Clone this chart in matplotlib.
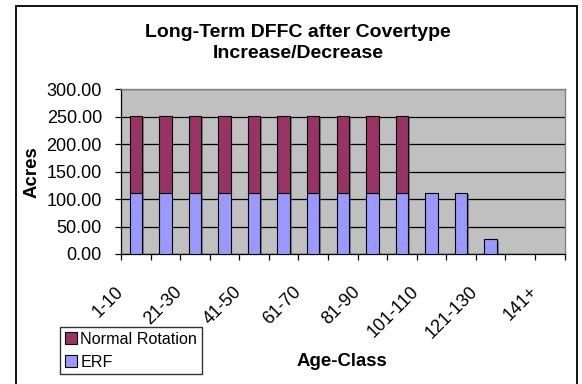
import matplotlib
matplotlib.use("Agg")
import matplotlib.pyplot as plt
import matplotlib.patheffects as pe
from matplotlib.patches import Rectangle
from matplotlib.transforms import ScaledTranslation
import numpy as np

# Long-term DFFC acres per age class
age_classes = ['1-10', '11-20', '21-30', '31-40', '41-50', '51-60', '61-70', '71-80',
               '81-90', '91-100', '101-110', '111-120', '121-130', '131-140', '141+']
erf = [112, 112, 112, 112, 112, 112, 112, 112, 112, 112, 112, 112, 27, 0, 0]
normal_rotation = [140, 140, 140, 140, 140, 140, 140, 140, 140, 140, 0, 0, 0, 0, 0]

plt.rcParams['font.family'] = ['Liberation Sans', 'DejaVu Sans']

fig = plt.figure(figsize=(5.82, 3.84), dpi=100)
ax = fig.add_axes([121 / 582, 1 - 254 / 384, (564.5 - 121) / 582, (254 - 89.3) / 384])
ax.set_facecolor('#C0C0C0')

x = np.arange(len(age_classes))
shadow = [pe.SimplePatchShadow(offset=(1.3, -1.0), shadow_rgbFace='#505050', alpha=0.6), pe.Normal()]
b1 = ax.bar(x, erf, width=0.42, color='#9999FF', edgecolor='black', linewidth=0.8,
            label='ERF', zorder=3)
b2 = ax.bar(x, normal_rotation, width=0.42, bottom=erf, color='#993366', edgecolor='black',
            linewidth=0.8, label='Normal Rotation', zorder=3)
for bars in (b1, b2):
    for p in bars:
        if p.get_height() > 0:
            p.set_path_effects(shadow)
        else:
            p.set_visible(False)

ax.set_xlim(-0.5, len(age_classes) - 0.5)
ax.set_ylim(0, 300)
ax.set_yticks(np.arange(0, 301, 50))
ax.set_yticklabels(['%.2f' % v for v in np.arange(0, 301, 50)], fontsize=13)
ax.yaxis.grid(True, color='black', linewidth=0.9, zorder=1)
ax.set_axisbelow(True)
ax.tick_params(axis='y', direction='out', length=4.3, width=0.9, pad=9.4, color='black')

# category boundaries get the tick marks, labels go on every other center
ax.set_xticks(np.arange(-0.5, len(age_classes), 1.0), minor=True)
ax.tick_params(axis='x', which='minor', direction='out', length=4.3, width=0.9, color='black')
ax.set_xticks(x[::2])
ax.set_xticklabels(age_classes[::2], rotation=45, ha='right', va='top', fontsize=13)
ax.tick_params(axis='x', which='major', length=0, pad=21)
off = ScaledTranslation(-9 / 100, 0, fig.dpi_scale_trans)
for lab in ax.get_xticklabels():
    lab.set_transform(lab.get_transform() + off)

for side in ('top', 'right'):
    ax.spines[side].set_color('#808080')
    ax.spines[side].set_linewidth(1.0)
for side in ('left', 'bottom'):
    ax.spines[side].set_color('black')
    ax.spines[side].set_linewidth(0.9)

fig.text(298 / 582, 1 - 42.9 / 384, 'Long-Term DFFC after Covertype\nIncrease/Decrease',
         ha='center', va='center', fontsize=14, fontweight='bold', linespacing=1.25)
fig.text(31.7 / 582, 1 - 171.7 / 384, 'Acres', rotation=90, ha='center', va='center',
         fontsize=13.4, fontweight='bold')
fig.text(342 / 582, 1 - 361.7 / 384, 'Age-Class', ha='center', va='center',
         fontsize=13.4, fontweight='bold')

leg = fig.legend([b2, b1], ['Normal Rotation', 'ERF'], loc='upper left',
                 bbox_to_anchor=(60 / 582, 1 - 326.7 / 384), bbox_transform=fig.transFigure,
                 fontsize=11.6, fancybox=False, frameon=True, edgecolor='black',
                 borderaxespad=0, borderpad=0.3, handlelength=0.75, handleheight=0.75,
                 handletextpad=0.2, labelspacing=0.5)
leg.get_frame().set_linewidth(1.0)
for h in leg.legend_handles:
    h.set_path_effects([])

# outer chart border, runs off the bottom of the image
fig.patches.append(Rectangle((16 / 582, -0.1), (576.7 - 16) / 582, 1.1 - 5.7 / 384,
                             transform=fig.transFigure, fill=False, edgecolor='black',
                             linewidth=1.3))

fig.savefig('out.png', dpi=100)
